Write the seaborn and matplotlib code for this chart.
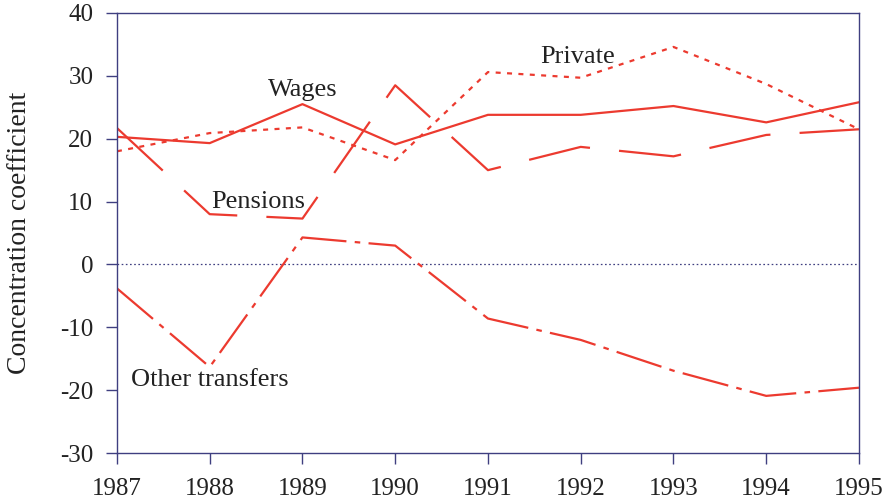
"""Concentration coefficients of income sources, 1987-1995"""

import matplotlib
matplotlib.use('Agg')
import matplotlib.pyplot as plt
import numpy as np
import pandas as pd
import seaborn as sns

years = [1987, 1988, 1989, 1990, 1991, 1992, 1993, 1994, 1995]
wages = [20.3, 19.3, 25.5, 19.1, 23.8, 23.8, 25.2, 22.6, 25.8]
private = [18.0, 20.9, 21.8, 16.6, 30.6, 29.7, 34.6, 28.7, 21.5]
pensions = [21.7, 8.0, 7.3, 28.5, 15.0, 18.7, 17.2, 20.6, 21.5]
other_transfers = [-3.8, -16.3, 4.3, 3.0, -8.6, -12.0, -16.9, -20.9, -19.6]

series_names = ['Wages', 'Private', 'Pensions', 'Other transfers']
series_values = [wages, private, pensions, other_transfers]

df = pd.DataFrame({
    'year': np.tile(years, len(series_names)),
    'value': np.concatenate(series_values),
    'series': np.repeat(series_names, len(years)),
})

# --------------------------------------------------------------------------- #
sns.set_theme(style='white')
plt.rcParams['font.family'] = ['Liberation Serif', 'DejaVu Serif']
plt.rcParams['lines.scale_dashes'] = False
plt.rcParams['axes.unicode_minus'] = False

red = '#ec3a2f'
navy = '#3f3f80'
txt = '#222222'

fig = plt.figure(figsize=(8.86, 4.99), dpi=100)
ax = fig.add_axes([0.132, 0.092, 0.8375, 0.882])

dashes = {
    'Wages': '',
    'Private': (3.6, 4.6),
    'Pensions': (45, 21),
    'Other transfers': (34, 6, 4, 6),
}
sns.lineplot(data=df, x='year', y='value', hue='series', style='series',
             palette={s: red for s in series_names}, dashes=dashes,
             linewidth=1.6, legend=False, ax=ax)

ax.axhline(0, color=navy, lw=0.9, ls=(0, (1.2, 1.8)), zorder=1)

ax.set_xlim(1987, 1995)
ax.set_ylim(-30, 40)
ax.set_xticks(years)
ax.set_yticks(range(-30, 41, 10))
ax.set_xticklabels([str(y) for y in years])

for sp in ax.spines.values():
    sp.set_color(navy)
    sp.set_linewidth(1.0)
ax.tick_params(axis='both', which='both', direction='out', length=8,
               width=1.0, color=navy, labelsize=18, labelcolor=txt,
               bottom=True, left=True, top=False, right=False)
ax.tick_params(axis='x', pad=10)
ax.tick_params(axis='y', pad=9)

ax.set_xlabel('')
ax.set_ylabel('Concentration coefficient', fontsize=20, color=txt, labelpad=20)

# series labels
ax.text(1989, 27.8, 'Wages', fontsize=19, color=txt, ha='center', va='center')
ax.text(1988.52, 10.0, 'Pensions', fontsize=19, color=txt, ha='center', va='center')
ax.text(1991.97, 33.0, 'Private', fontsize=19, color=txt, ha='center', va='center')
ax.text(1988.0, -18.3, 'Other transfers', fontsize=19, color=txt, ha='center', va='center')

fig.savefig('out.png', dpi=100)
